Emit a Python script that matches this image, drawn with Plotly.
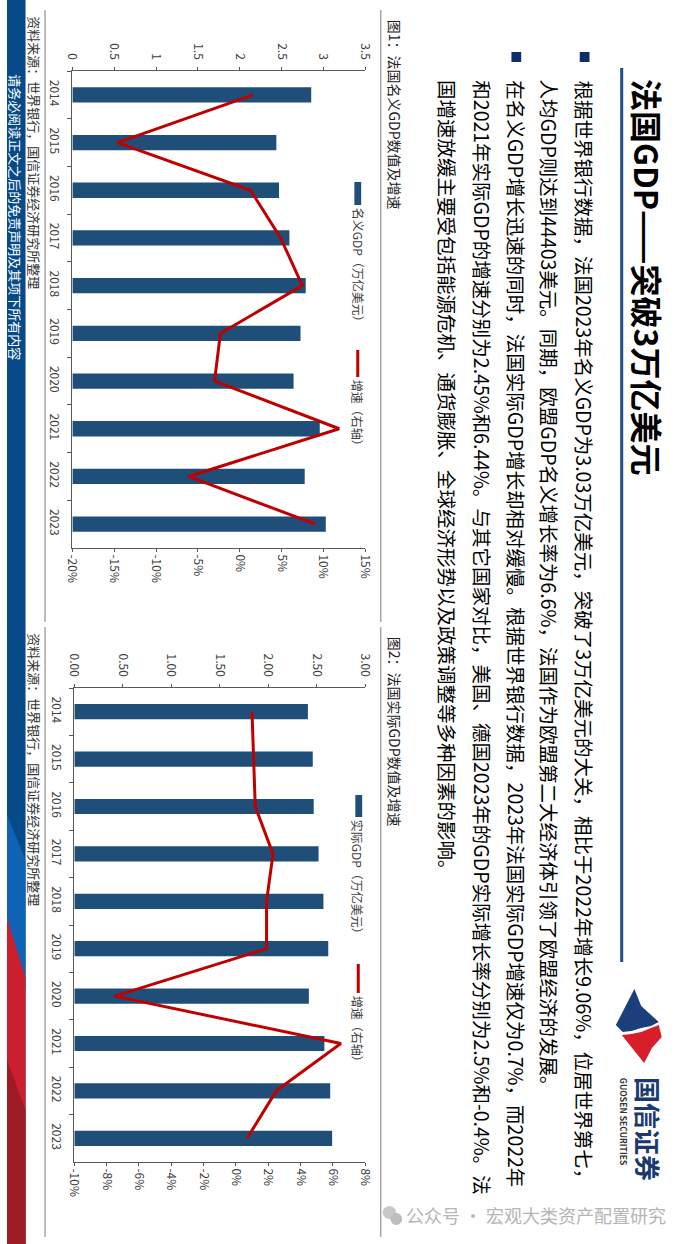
import plotly.graph_objects as go

# ---------------- data ----------------
years = ['2014', '2015', '2016', '2017', '2018', '2019', '2020', '2021', '2022', '2023']
nominal_gdp = [2.856, 2.439, 2.471, 2.595, 2.790, 2.728, 2.645, 2.958, 2.778, 3.030]   # 万亿美元
nominal_growth = [1.6, -14.6, 1.3, 4.9, 7.5, -2.3, -3.0, 11.9, -6.1, 9.06]             # %
real_gdp = [2.41, 2.46, 2.47, 2.52, 2.57, 2.62, 2.42, 2.58, 2.64, 2.66]                # 万亿美元
real_growth = [1.0, 1.1, 1.2, 2.3, 1.9, 1.9, -7.5, 6.5, 2.5, 0.7]                      # %

nom_val_ticks = [0, 0.5, 1, 1.5, 2, 2.5, 3, 3.5]
nom_val_labels = ['0', '0.5', '1', '1.5', '2', '2.5', '3', '3.5']
nom_gr_ticks = [-20, -15, -10, -5, 0, 5, 10, 15]
nom_gr_labels = ['-20%', '-15%', '-10%', '-5%', '0%', '5%', '10%', '15%']
real_val_ticks = [0, 0.5, 1, 1.5, 2, 2.5, 3]
real_val_labels = ['0.00', '0.50', '1.00', '1.50', '2.00', '2.50', '3.00']
real_gr_ticks = [-10, -8, -6, -4, -2, 0, 2, 4, 6, 8]
real_gr_labels = ['-10%', '-8%', '-6%', '-4%', '-2%', '0%', '2%', '4%', '6%', '8%']

title_text = '法国GDP——突破3万亿美元'
body_lines = [
    '根据世界银行数据，法国2023年名义GDP为3.03万亿美元，突破了3万亿美元的大关，相比于2022年增长9.06%，位居世界第七，',
    '人均GDP则达到44403美元。同期，欧盟GDP名义增长率为6.6%，法国作为欧盟第二大经济体引领了欧盟经济的发展。',
    '在名义GDP增长迅速的同时，法国实际GDP增长却相对缓慢。根据世界银行数据，2023年法国实际GDP增速仅为0.7%，而2022年',
    '和2021年实际GDP的增速分别为2.45%和6.44%。与其它国家对比，美国、德国2023年的GDP实际增长率分别为2.5%和-0.4%。法',
    '国增速放缓主要受包括能源危机、通货膨胀、全球经济形势以及政策调整等多种因素的影响。',
]
fig1_title = '图1：法国名义GDP数值及增速'
fig2_title = '图2：法国实际GDP数值及增速'
source_text = '资料来源：世界银行，国信证券经济研究所整理'
band_text = '请务必阅读正文之后的免责声明及其项下所有内容'
legend1 = ['名义GDP（万亿美元）', '增速（右轴）']
legend2 = ['实际GDP（万亿美元）', '增速（右轴）']
logo_cn = '国信证券'
logo_en = 'GUOSEN SECURITIES'
watermark = '公众号 · 宏观大类资产配置研究'

# ---------------- style ----------------
W, H = 700, 1244
FONT = 'Noto Sans CJK SC, Noto Sans, sans-serif'
BAR = '#1F4E79'
RED = '#C00000'
AX = '#595959'
TICKC = '#404040'
NAVY = '#0D2D6C'


def px(x):
    return x / W


def py(y):
    return 1 - y / H


fig = go.Figure()

# chart 1
fig.add_trace(go.Bar(x=nominal_gdp, y=years, orientation='h', xaxis='x', yaxis='y',
                     marker=dict(color=BAR, line=dict(width=0)), width=0.32, showlegend=False))
fig.add_trace(go.Scatter(x=nominal_growth, y=years, mode='lines', xaxis='x2', yaxis='y',
                         line=dict(color=RED, width=3), showlegend=False))
# chart 2
fig.add_trace(go.Bar(x=real_gdp, y=years, orientation='h', xaxis='x3', yaxis='y3',
                     marker=dict(color=BAR, line=dict(width=0)), width=0.32, showlegend=False))
fig.add_trace(go.Scatter(x=real_growth, y=years, mode='lines', xaxis='x4', yaxis='y3',
                         line=dict(color=RED, width=3), showlegend=False))

tickfont = dict(family=FONT, size=12, color=TICKC)
common = dict(showline=True, linecolor=AX, linewidth=1, ticks='outside', tickcolor=AX,
              tickwidth=1, showgrid=False, zeroline=False, tickfont=tickfont, tickangle=90,
              fixedrange=True)

fig.update_layout(
    width=W, height=H, autosize=False,
    margin=dict(l=0, r=0, t=0, b=0),
    paper_bgcolor='white', plot_bgcolor='white',
    showlegend=False,
    bargap=0.6,
    xaxis=dict(domain=[px(67), px(367)], anchor='y', side='top', range=[0, 3.5],
               tickmode='array', tickvals=nom_val_ticks, ticktext=nom_val_labels, ticklen=3,
               ticklabelstandoff=3, **common),
    xaxis2=dict(overlaying='x', anchor='y', side='bottom', range=[-20, 15],
                tickmode='array', tickvals=nom_gr_ticks, ticktext=nom_gr_labels, ticklen=3, **common),
    yaxis=dict(domain=[py(548), py(71)], anchor='x', type='category', autorange='reversed',
               tickson='boundaries', ticklen=4, ticklabelstandoff=7, **common),
    xaxis3=dict(domain=[px(69), px(367)], anchor='y3', side='top', range=[0, 3],
                tickmode='array', tickvals=real_val_ticks, ticktext=real_val_labels, ticklen=3,
                ticklabelstandoff=3, **common),
    xaxis4=dict(overlaying='x3', anchor='y3', side='bottom', range=[-10, 8],
                tickmode='array', tickvals=real_gr_ticks, ticktext=real_gr_labels, ticklen=3, **common),
    yaxis3=dict(domain=[py(1162), py(688)], anchor='x3', type='category', autorange='reversed',
                tickson='boundaries', ticklen=4, ticklabelstandoff=7, **common),
)

shapes = []
annotations = []


def rect(x0, y0, x1, y1, color, line_color=None):
    shapes.append(dict(type='rect', xref='paper', yref='paper', x0=px(x0), x1=px(x1),
                       y0=py(y0), y1=py(y1), fillcolor=color,
                       line=dict(width=0 if line_color is None else 1, color=line_color or color)))


def poly(points, color):
    d = 'M ' + ' L '.join(f'{px(a):.5f},{py(b):.5f}' for a, b in points) + ' Z'
    shapes.append(dict(type='path', xref='paper', yref='paper', path=d, fillcolor=color,
                       line=dict(width=0)))


def vline(x, y0, y1, color, width):
    shapes.append(dict(type='line', xref='paper', yref='paper', x0=px(x), x1=px(x),
                       y0=py(y0), y1=py(y1), line=dict(color=color, width=width)))


def vtext(text, xc, ytop, size, color='#000000', bold=False, anchor='top'):
    t = f'<b>{text}</b>' if bold else text
    annotations.append(dict(text=t, xref='paper', yref='paper', x=px(xc), y=py(ytop),
                            xanchor='center', yanchor=anchor, showarrow=False, textangle=90,
                            font=dict(family=FONT, size=size, color=color), borderpad=0))


# left band
rect(0, 0, 19, H, '#064A8A')
poly([(0, 815), (19, 860), (19, 990), (0, 940)], '#0E63B5')
poly([(0, 918), (19, 978), (19, H), (0, H)], '#CC1F2D')
poly([(0, 1060), (19, 1110), (19, H), (0, H)], '#9E1B25')
vtext(band_text, 9, 73, 13, color='white')

# separators
for x in (39, 383):
    vline(x, 10, 622, '#A6A6A6', 1.5)
    vline(x, 627, 1237, '#A6A6A6', 1.5)

# title bar
vline(630, 68, 962, '#1F4E89', 3)
vtext(title_text, 657, 78, 32, bold=True)

# bullets
rect(587, 52, 597, 62, NAVY)
rect(517, 52, 527, 62, NAVY)

# body text
for xc, line in zip([592, 557, 522, 487, 452], body_lines):
    vtext(line, xc, 79, 19.5)

# chart titles and sources
vtext(fig1_title, 398, 19, 14, color='#222222')
vtext(fig2_title, 398, 636, 14, color='#222222')
vtext(source_text, 28, 15, 13, color='#333333')
vtext(source_text, 28, 632, 13, color='#333333')

# legends
rect(356, 182, 363, 205, BAR)
vtext(legend1[0], 360, 207, 12, color=TICKC)
vline(359.5, 350, 377, RED, 3)
vtext(legend1[1], 360, 379, 12, color=TICKC)

rect(357, 795, 364, 817, BAR)
vtext(legend2[0], 360, 819, 12, color=TICKC)
vline(360, 964, 993, RED, 3)
vtext(legend2[1], 360, 995, 12, color=TICKC)

# logo
poly([(643, 989), (650, 1006), (668, 1022), (660, 1026), (650, 1028), (640, 1031), (631, 1032), (624, 1025)], '#1B3F7A')
poly([(630, 1035), (640, 1034), (650, 1032), (660, 1028), (668, 1025), (671, 1037), (661, 1048), (653, 1063)], '#D71F2B')
vtext(logo_cn, 658, 1076, 26, color='#1A3A6E', bold=True)
vtext(logo_en, 633, 1077, 8.5, color='#333333', bold=True)

# watermark
shapes.append(dict(type='circle', xref='paper', yref='paper', x0=px(385), x1=px(399),
                   y0=py(1219), y1=py(1206), fillcolor='#C8C8C8', line=dict(width=0)))
shapes.append(dict(type='circle', xref='paper', yref='paper', x0=px(393), x1=px(405),
                   y0=py(1225), y1=py(1213), fillcolor='#BDBDBD', line=dict(width=0)))
annotations.append(dict(text=watermark, xref='paper', yref='paper', x=px(407), y=py(1215),
                        xanchor='left', yanchor='middle', showarrow=False,
                        font=dict(family=FONT, size=18, color='#B5B5B5')))

fig.update_layout(shapes=shapes, annotations=annotations)

fig.write_html('out.html')
